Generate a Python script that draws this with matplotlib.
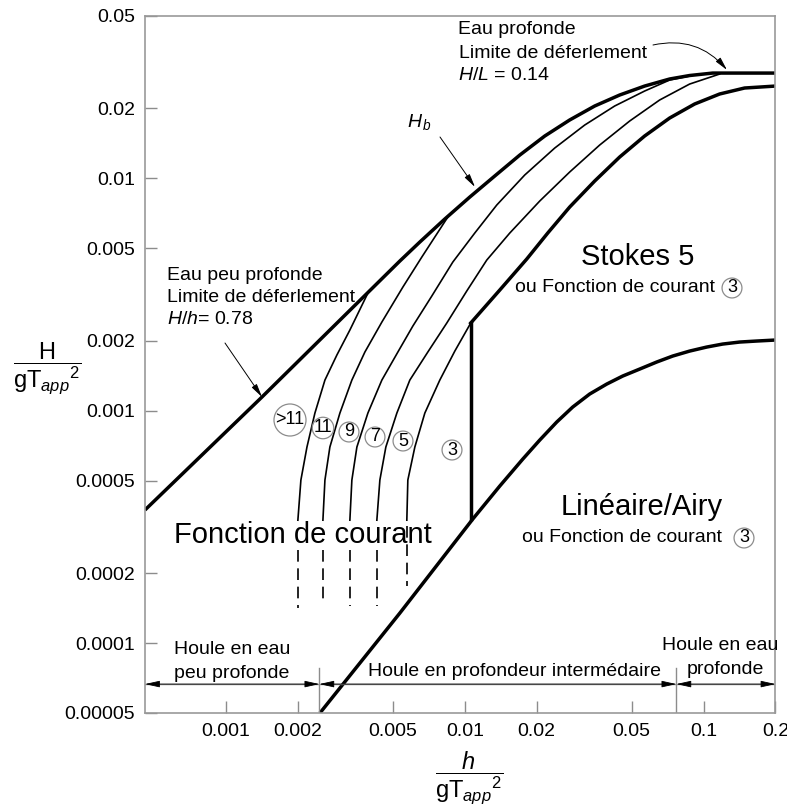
import matplotlib.pyplot as plt
from matplotlib.ticker import FixedLocator, FixedFormatter, NullLocator

plt.rcParams['font.family'] = ['Liberation Sans', 'DejaVu Sans']
plt.rcParams['mathtext.fontset'] = 'custom'
plt.rcParams['mathtext.rm'] = 'Liberation Sans'
plt.rcParams['mathtext.it'] = 'Liberation Sans:italic'
plt.rcParams['mathtext.bf'] = 'Liberation Sans:bold'

W, H = 787, 806

# axes : h/gT^2 (x) and H/gT^2 (y), log-log
x_min, x_max = 0.000458, 0.2
y_min, y_max = 0.00005, 0.05
x_ticks = [0.001, 0.002, 0.005, 0.01, 0.02, 0.05, 0.1, 0.2]
x_ticklabels = ['0.001', '0.002', '0.005', '0.01', '0.02', '0.05', '0.1', '0.2']
y_ticks = [0.00005, 0.0001, 0.0002, 0.0005, 0.001, 0.002, 0.005, 0.01, 0.02, 0.05]
y_ticklabels = ['0.00005', '0.0001', '0.0002', '0.0005', '0.001', '0.002',
                '0.005', '0.01', '0.02', '0.05']

# limite de deferlement (H/h = 0.78 puis Hb puis H/L = 0.14)
hb_x = [0.000458, 0.001414, 0.002723, 0.005346, 0.006481, 0.008247, 0.01049, 0.01335,
        0.01699, 0.02162, 0.02749, 0.03499, 0.04452, 0.05663, 0.07208, 0.08737, 0.1091, 0.2]
hb_y = [0.000374, 0.001145, 0.002225, 0.004409, 0.005322, 0.006686, 0.008310, 0.01024,
        0.01260, 0.01522, 0.01784, 0.02049, 0.02285, 0.02497, 0.02678, 0.02772, 0.0284, 0.0284]

# courbes d'ordre de la fonction de courant
o_gt11_x = [0.002000, 0.002059, 0.002183, 0.002357, 0.002596, 0.002913, 0.003302, 0.003928]
o_gt11_y = [0.000338, 0.000503, 0.000698, 0.000977, 0.001355, 0.001737, 0.002225, 0.003209]

o11_x = [0.002546, 0.002596, 0.002723, 0.002999, 0.003366, 0.003816, 0.004495, 0.005504,
         0.006608, 0.008489]
o11_y = [0.000338, 0.000503, 0.000698, 0.000977, 0.001355, 0.001789, 0.002408, 0.003406,
         0.004587, 0.006819]

o9_x = [0.003302, 0.003366, 0.003533, 0.003928, 0.004495, 0.005245, 0.006059, 0.007276,
        0.008910, 0.01101, 0.01361, 0.01782, 0.02380, 0.03178, 0.04242, 0.05663, 0.07208, 0.08737]
o9_y = [0.000338, 0.000503, 0.000698, 0.000977, 0.001355, 0.001789, 0.002314, 0.003117,
        0.004365, 0.005819, 0.007681, 0.01034, 0.01351, 0.01697, 0.02049, 0.02377, 0.02651, 0.02758]

o7_x = [0.004283, 0.004409, 0.004671, 0.005194, 0.005886, 0.007001, 0.008406, 0.01019,
        0.01236, 0.01543, 0.02060, 0.02749, 0.03672, 0.04903, 0.06546, 0.08737, 0.1167]
o7_y = [0.000338, 0.000503, 0.000698, 0.000977, 0.001355, 0.001789, 0.002385, 0.003275,
        0.004452, 0.005819, 0.007991, 0.01065, 0.01392, 0.01766, 0.02175, 0.02547, 0.02813]

o5_x = [0.005718, 0.005774, 0.006178, 0.006802, 0.007859, 0.009083, 0.01059]
o5_y = [0.000338, 0.000503, 0.000698, 0.000977, 0.001355, 0.001806, 0.002385]

# limite Stokes 5 (suite de la courbe 5)
stokes_x = [0.01059, 0.01401, 0.01817, 0.02225, 0.02749, 0.03499, 0.04452, 0.05663,
            0.07208, 0.09170, 0.1167, 0.1484, 0.2]
stokes_y = [0.002385, 0.003307, 0.004496, 0.005819, 0.007528, 0.009743, 0.01236, 0.01522,
            0.01819, 0.02090, 0.02308, 0.02449, 0.02497]

# limite lineaire / Airy
airy_x = [0.002474, 0.005346, 0.01080, 0.01401, 0.01749, 0.02060, 0.02426, 0.02830,
          0.03334, 0.03927, 0.04583, 0.05398, 0.06358, 0.07420, 0.08737, 0.1029,
          0.1201, 0.1414, 0.1667, 0.2]
airy_y = [0.00005, 0.0001346, 0.0003418, 0.0004740, 0.0006192, 0.0007477, 0.0008938,
          0.001037, 0.001180, 0.001302, 0.001410, 0.001511, 0.001620, 0.001719,
          0.001806, 0.001879, 0.001936, 0.001975, 0.001995, 0.002015]

# separation verticale entre Stokes 5 et Fonction de courant 3
vert_x = 0.01059
vert_y = [0.000342, 0.002385]

# prolongements en tirets (>11, 11, 9, 7, 5)
dash_x = [0.002000, 0.002546, 0.003302, 0.004283, 0.005718]
dash_top = [0.000251, 0.000251, 0.000251, 0.000251, 0.000319]
dash_bot = [0.000141, 0.000147, 0.000144, 0.000144, 0.000176]

# limites eau peu profonde / intermediaire / profonde
shallow_lim = 0.00246
deep_lim = 0.0769
dim_y = 0.0000666
dim_tick_top = 0.000078


def fxy(px, py):
    return (px / W, 1 - py / H)


fig = plt.figure(figsize=(W / 100, H / 100), dpi=100)
ax = fig.add_axes([145 / W, 1 - 713 / H, (775.5 - 145) / W, (713 - 16) / H])
ax.set_xscale('log')
ax.set_yscale('log')
ax.set_xlim(x_min, x_max)
ax.set_ylim(y_min, y_max)

thick = 2.5
thin = 1.2
ax.plot(hb_x, hb_y, color='k', lw=thick, solid_capstyle='butt', solid_joinstyle='round')
for xs, ys in [(o_gt11_x, o_gt11_y), (o11_x, o11_y), (o9_x, o9_y), (o7_x, o7_y), (o5_x, o5_y)]:
    ax.plot(xs, ys, color='k', lw=thin, solid_joinstyle='round')
ax.plot(stokes_x, stokes_y, color='k', lw=thick, solid_joinstyle='round')
ax.plot(airy_x, airy_y, color='k', lw=thick, solid_capstyle='butt', solid_joinstyle='round')
ax.plot([vert_x, vert_x], vert_y, color='k', lw=thick)
for xd, yt, yb in zip(dash_x, dash_top, dash_bot):
    ax.plot([xd, xd], [yt, yb], color='k', lw=thin, linestyle=(0, (7, 4)))

# cotes en bas
gray = '#8c8c8c'
for xl in [shallow_lim, deep_lim]:
    ax.plot([xl, xl], [y_min, dim_tick_top], color=gray, lw=1)
ax.plot([x_min, x_max], [dim_y, dim_y], color=gray, lw=1)
for xa, xb in [(x_min, shallow_lim), (shallow_lim, deep_lim), (deep_lim, x_max)]:
    ax.annotate('', xy=(xb, dim_y), xytext=(xa, dim_y),
                arrowprops=dict(arrowstyle='<|-|>,head_length=0.9,head_width=0.2',
                                color='k', lw=0.6, shrinkA=0, shrinkB=0))

ax.xaxis.set_major_locator(FixedLocator(x_ticks))
ax.xaxis.set_major_formatter(FixedFormatter(x_ticklabels))
ax.yaxis.set_major_locator(FixedLocator(y_ticks))
ax.yaxis.set_major_formatter(FixedFormatter(y_ticklabels))
ax.xaxis.set_minor_locator(NullLocator())
ax.yaxis.set_minor_locator(NullLocator())
ax.tick_params(which='both', direction='in', length=8.5, width=1, color=gray,
               labelsize=14, pad=7)
for s in ax.spines.values():
    s.set_color('#999999')
    s.set_linewidth(1.2)

# etiquettes d'axes
fig.text(*fxy(47, 368), r'$\dfrac{\mathrm{H}}{{\mathrm{gT}_{app}}^{2}}$', fontsize=17,
         ha='center', va='center')
fig.text(*fxy(469, 778), r'$\dfrac{h}{{\mathrm{gT}_{app}}^{2}}$', fontsize=17,
         ha='center', va='center')

# textes
fs = 14
fig.text(*fxy(167, 275), 'Eau peu profonde', fontsize=fs, va='center')
fig.text(*fxy(167, 297), 'Limite de déferlement', fontsize=fs, va='center')
fig.text(*fxy(167, 320), r'$H/h$= 0.78', fontsize=fs, va='center')
fig.text(*fxy(458, 30), 'Eau profonde', fontsize=fs, va='center')
fig.text(*fxy(459, 53), 'Limite de déferlement', fontsize=fs, va='center')
fig.text(*fxy(458, 76), r'$H/L$ = 0.14', fontsize=fs, va='center')
fig.text(*fxy(407, 122), r'$H_{\,b}$', fontsize=fs, va='center')

fig.text(*fxy(638, 257), 'Stokes 5', fontsize=21, ha='center', va='center')
fig.text(*fxy(515, 288), 'ou Fonction de courant', fontsize=fs, va='center')
fig.text(*fxy(642, 507), 'Linéaire/Airy', fontsize=21, ha='center', va='center')
fig.text(*fxy(522, 538), 'ou Fonction de courant', fontsize=fs, va='center')
fig.text(*fxy(174, 535), 'Fonction de courant', fontsize=21, va='center')

fig.text(*fxy(174, 650), 'Houle en eau', fontsize=fs, va='center')
fig.text(*fxy(174, 673), 'peu profonde', fontsize=fs, va='center')
fig.text(*fxy(515, 672), 'Houle en profondeur intermédaire', fontsize=fs,
         ha='center', va='center')
fig.text(*fxy(720, 646), 'Houle en eau', fontsize=fs, ha='center', va='center')
fig.text(*fxy(725, 670), 'profonde', fontsize=fs, ha='center', va='center')

# numeros cercles
circ = dict(boxstyle='circle,pad=0.08', fc='none', ec=gray, lw=0.9)
for lab, px, py in [('>11', 290, 420), ('11', 323, 428), ('9', 349, 432), ('7', 375, 437),
                    ('5', 403, 441), ('3', 452, 450), ('3', 732, 288), ('3', 744, 538)]:
    fig.text(*fxy(px, py), lab, fontsize=13, ha='center', va='center', bbox=circ)

# fleches de repere
arr = dict(arrowstyle='-|>,head_length=0.8,head_width=0.18', color='k', lw=0.7,
           shrinkA=0, shrinkB=0)
ax.annotate('', xy=fxy(262, 397), xytext=fxy(225, 343), xycoords='figure fraction',
            textcoords='figure fraction', arrowprops=arr)
ax.annotate('', xy=fxy(475, 187), xytext=fxy(440, 137), xycoords='figure fraction',
            textcoords='figure fraction', arrowprops=arr)
ax.annotate('', xy=fxy(727, 70), xytext=fxy(653, 45), xycoords='figure fraction',
            textcoords='figure fraction',
            arrowprops=dict(arr, connectionstyle='arc3,rad=-0.3'))

fig.savefig('out.png', dpi=100)
